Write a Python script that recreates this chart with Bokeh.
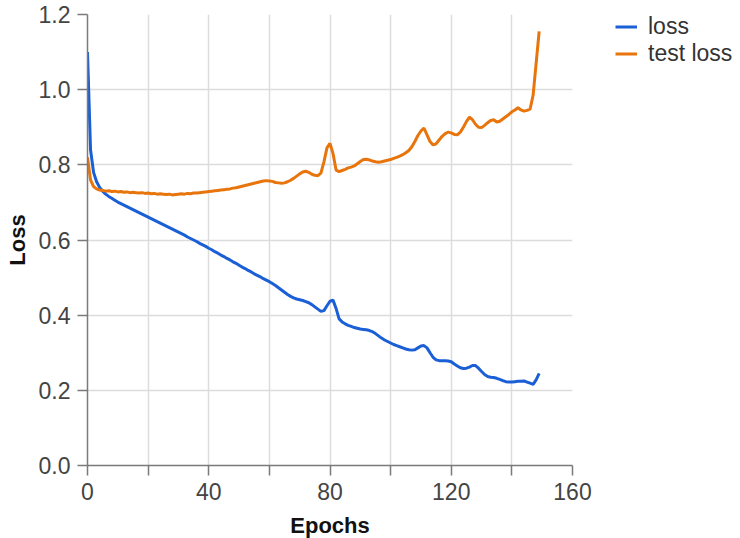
from bokeh.plotting import figure
from bokeh.models import FixedTicker, NumeralTickFormatter, Legend, LegendItem, Range1d
from bokeh.embed import file_html
from bokeh.resources import INLINE

epochs = list(range(150))

loss = [1.10, 0.84, 0.78, 0.755, 0.740, 0.730, 0.722, 0.716, 0.711, 0.706,
        0.701, 0.697, 0.693, 0.689, 0.685, 0.681, 0.677, 0.673, 0.669, 0.665,
        0.661, 0.657, 0.653, 0.649, 0.645, 0.641, 0.637, 0.633, 0.629, 0.625,
        0.621, 0.617, 0.613, 0.608, 0.604, 0.600, 0.596, 0.591, 0.587, 0.583,
        0.578, 0.574, 0.569, 0.565, 0.560, 0.556, 0.551, 0.547, 0.542, 0.538,
        0.533, 0.528, 0.524, 0.519, 0.515, 0.510, 0.506, 0.502, 0.497, 0.493,
        0.489, 0.484, 0.479, 0.473, 0.467, 0.461, 0.455, 0.450, 0.446, 0.443,
        0.441, 0.439, 0.436, 0.433, 0.428, 0.422, 0.416, 0.410, 0.412, 0.425,
        0.437, 0.440, 0.418, 0.390, 0.382, 0.377, 0.373, 0.370, 0.367, 0.365,
        0.363, 0.362, 0.361, 0.359, 0.356, 0.351, 0.345, 0.339, 0.334, 0.330,
        0.326, 0.322, 0.319, 0.316, 0.313, 0.310, 0.308, 0.307, 0.308, 0.313,
        0.318, 0.319, 0.313, 0.300, 0.288, 0.281, 0.279, 0.279, 0.279, 0.278,
        0.276, 0.270, 0.265, 0.260, 0.258, 0.259, 0.262, 0.266, 0.266, 0.259,
        0.250, 0.242, 0.237, 0.235, 0.234, 0.232, 0.229, 0.226, 0.223, 0.222,
        0.222, 0.223, 0.224, 0.224, 0.225, 0.222, 0.219, 0.216, 0.228, 0.245]

test_loss = [0.82, 0.76, 0.742, 0.736, 0.733, 0.732, 0.730, 0.731, 0.729, 0.730,
             0.728, 0.729, 0.727, 0.728, 0.726, 0.727, 0.726, 0.725, 0.726, 0.724,
             0.725, 0.723, 0.724, 0.722, 0.723, 0.722, 0.721, 0.722, 0.720, 0.721,
             0.722, 0.723, 0.722, 0.724, 0.723, 0.725, 0.725, 0.726, 0.727, 0.728,
             0.729, 0.730, 0.731, 0.732, 0.733, 0.734, 0.735, 0.736, 0.738, 0.739,
             0.741, 0.743, 0.745, 0.747, 0.749, 0.751, 0.753, 0.755, 0.757, 0.758,
             0.757, 0.756, 0.753, 0.752, 0.751, 0.752, 0.755, 0.759, 0.764, 0.770,
             0.776, 0.781, 0.783, 0.780, 0.775, 0.772, 0.771, 0.778, 0.808, 0.845,
             0.857, 0.830, 0.786, 0.782, 0.785, 0.788, 0.792, 0.794, 0.797, 0.803,
             0.809, 0.814, 0.815, 0.813, 0.810, 0.808, 0.807, 0.808, 0.810, 0.812,
             0.814, 0.817, 0.820, 0.823, 0.827, 0.832, 0.838, 0.848, 0.862, 0.878,
             0.890, 0.898, 0.880, 0.862, 0.853, 0.856, 0.866, 0.876, 0.883, 0.887,
             0.885, 0.881, 0.880, 0.887, 0.900, 0.915, 0.927, 0.920, 0.908, 0.900,
             0.899, 0.905, 0.912, 0.918, 0.920, 0.914, 0.916, 0.922, 0.928, 0.934,
             0.941, 0.946, 0.952, 0.946, 0.943, 0.945, 0.948, 0.985, 1.070, 1.155]

x_major = [0, 40, 80, 120, 160]
x_minor = [20, 60, 100, 140]
x_grid = [0, 20, 40, 60, 80, 100, 120, 140, 160]
y_ticks = [0.0, 0.2, 0.4, 0.6, 0.8, 1.0, 1.2]

FONT = "Liberation Sans"

p = figure(frame_width=485, frame_height=451, output_backend="svg", toolbar_location=None,
           x_range=Range1d(0, 160), y_range=Range1d(0, 1.2),
           min_border_left=87, min_border_right=168, min_border_top=14, min_border_bottom=73,
           x_axis_label="Epochs", y_axis_label="Loss")
p.outline_line_color = None
p.background_fill_color = "white"

l1 = p.line(epochs, loss, line_color="#1a5fd6", line_width=3)
l2 = p.line(epochs, test_loss, line_color="#e8740c", line_width=3)

# axes
p.xaxis.ticker = FixedTicker(ticks=x_major, minor_ticks=x_minor)
p.yaxis.ticker = FixedTicker(ticks=y_ticks)
p.yaxis.formatter = NumeralTickFormatter(format="0.0")
p.xgrid.ticker = FixedTicker(ticks=x_grid)
p.ygrid.ticker = FixedTicker(ticks=y_ticks)
p.grid.grid_line_color = "#dcdcdc"
p.grid.grid_line_width = 1.5

for ax in (p.xaxis, p.yaxis):
    ax.axis_line_color = "#7a7a7a"
    ax.axis_line_width = 1.5
    ax.major_tick_line_color = "#7a7a7a"
    ax.minor_tick_line_color = "#7a7a7a"
    ax.major_tick_line_width = 1.5
    ax.minor_tick_line_width = 1.5
    ax.major_tick_out = 10
    ax.major_tick_in = 0
    ax.minor_tick_out = 10
    ax.minor_tick_in = 0
    ax.major_label_text_font = FONT
    ax.major_label_text_font_size = "23px"
    ax.major_label_text_color = "#444444"
    ax.axis_label_text_font = FONT
    ax.axis_label_text_font_size = "22px"
    ax.axis_label_text_font_style = "bold"
    ax.axis_label_text_color = "#111111"
p.yaxis.minor_tick_out = 0
p.yaxis.major_label_standoff = 7
p.yaxis.axis_label_standoff = 6
p.xaxis.major_label_standoff = 7
p.xaxis.axis_label_standoff = 10

legend = Legend(items=[LegendItem(label="loss", renderers=[l1]),
                       LegendItem(label="test loss", renderers=[l2])],
                location=(43, 398), orientation="vertical")
legend.padding = 0
legend.margin = 0
legend.spacing = 0
legend.glyph_width = 22
legend.glyph_height = 27
legend.label_height = 27
legend.label_standoff = 11
legend.label_text_font = FONT
legend.label_text_font_size = "23px"
legend.label_text_color = "#333333"
legend.border_line_color = None
legend.background_fill_alpha = 0
p.add_layout(legend, "right")

open("out.html", "w").write(file_html(p, INLINE))
